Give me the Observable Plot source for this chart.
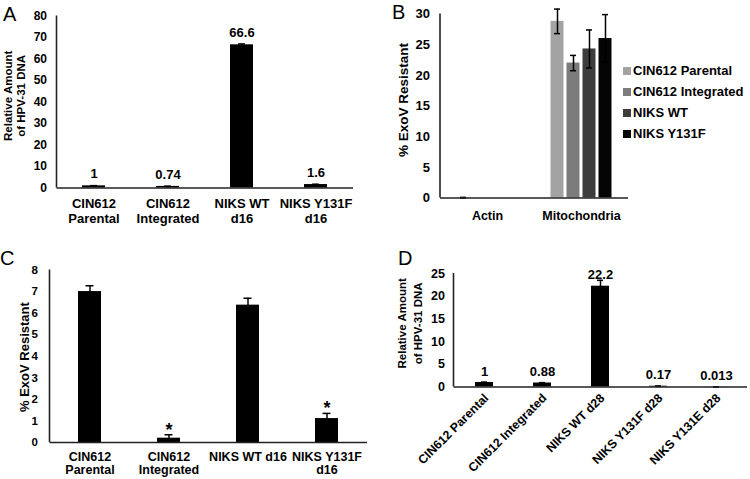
<!DOCTYPE html>
<html>
<head>
<meta charset="utf-8">
<script src="https://cdn.jsdelivr.net/npm/d3@7"></script>
<script src="https://cdn.jsdelivr.net/npm/@observablehq/plot@0.6"></script>
<style>
  body { margin: 0; background: #fff; }
  #root { position: relative; width: 750px; height: 479px; overflow: hidden;
          font-family: "Liberation Sans", Arial, sans-serif; font-weight: bold; color: #000; }
  .panel { position: absolute; }
  .panel svg { overflow: visible; }
  .letter { position: absolute; font-weight: normal; font-size: 20px; line-height: 1; }
  .ytitle { position: absolute; left: 0; top: 0; white-space: nowrap; text-align: center; transform-origin: 0 0; }
  .legend { position: absolute; font-size: 13px; }
  .legend .item { position: absolute; white-space: nowrap; display: flex; align-items: center; line-height: 15px; }
  .legend .sw { width: 8px; height: 8px; margin-right: 2px; }
</style>
</head>
<body>
<div id="root"></div>
<script>
// ---------- Panel A ----------
const catsA = ["CIN612 Parental", "CIN612 Integrated", "NIKS WT d16", "NIKS Y131F d16"];
const tickLabelsA = ["CIN612\nParental", "CIN612\nIntegrated", "NIKS WT\nd16", "NIKS Y131F\nd16"];
const valuesA = [1, 0.74, 66.6, 1.6];
const errorsA = [0.1, 0.06, 0.4, 0.15];
const valueLabelsA = ["1", "0.74", "66.6", "1.6"];
const yTicksA = [0, 10, 20, 30, 40, 50, 60, 70, 80];

// ---------- Panel B ----------
const groupsB = ["Actin", "Mitochondria"];
const seriesB = ["CIN612 Parental", "CIN612 Integrated", "NIKS WT", "NIKS Y131F"];
const actinB = [0.05, 0, 0, 0];
const actinErrB = [0.05, 0, 0, 0];
const mitoB = [28.8, 22.0, 24.3, 26.0];
const mitoErrB = [2.0, 1.25, 3.1, 3.9];
const yTicksB = [0, 5, 10, 15, 20, 25, 30];
const colorsB = ["#a3a3a3", "#7c7c7c", "#3d3d3d", "#050505"];

// ---------- Panel C ----------
const catsC = ["CIN612 Parental", "CIN612 Integrated", "NIKS WT d16", "NIKS Y131F d16"];
const tickLabelsC = ["CIN612\nParental", "CIN612\nIntegrated", "NIKS WT d16", "NIKS Y131F\nd16"];
const valuesC = [7.0, 0.2, 6.37, 1.11];
const errorsC = [0.27, 0.16, 0.32, 0.24];
const markC = ["", "*", "", "*"];
const yTicksC = [0, 1, 2, 3, 4, 5, 6, 7, 8];

// ---------- Panel D ----------
const catsD = ["CIN612 Parental", "CIN612 Integrated", "NIKS WT d28", "NIKS Y131F d28", "NIKS Y131E d28"];
const valuesD = [1, 0.88, 22.2, 0.17, 0.013];
const errorsD = [0.08, 0.08, 1.3, 0.02, 0.005];
const valueLabelsD = ["1", "0.88", "22.2", "0.17", "0.013"];
const yTicksD = [0, 5, 10, 15, 20, 25];

const FONT = "'Liberation Sans', Arial, sans-serif";
const baseStyle = { fontFamily: FONT, fontSize: "12.5px", fontWeight: "bold", color: "#000", background: "transparent", overflow: "visible" };
const AXIS_COLOR = "#222";

// y axis line drawn once from plot dimensions
function yAxisLine() {
  let drawn = false;
  return (index, scales, values, dim) => {
    if (drawn) return null;
    drawn = true;
    return d3.create("svg:line")
      .attr("x1", dim.marginLeft).attr("x2", dim.marginLeft)
      .attr("y1", dim.marginTop).attr("y2", dim.height - dim.marginBottom)
      .attr("stroke", AXIS_COLOR).attr("stroke-width", 1.6).node();
  };
}

function errorBars(data, opts, capInset) {
  const common = { stroke: "#000", strokeWidth: 1.5 };
  return [
    Plot.ruleX(data, { ...opts, y1: d => d.value - d.err, y2: d => d.value + d.err, ...common }),
    Plot.tickY(data, { ...opts, y: d => d.value + d.err, insetLeft: capInset, insetRight: capInset, ...common }),
    Plot.tickY(data, { ...opts, y: d => Math.max(0, d.value - d.err), insetLeft: capInset, insetRight: capInset, ...common })
  ];
}

const root = document.getElementById("root");
function place(node, left, top) {
  const d = document.createElement("div");
  d.className = "panel"; d.style.left = left + "px"; d.style.top = top + "px";
  d.appendChild(node); root.appendChild(d);
}
function letter(t, left, top) {
  const d = document.createElement("div"); d.className = "letter";
  d.textContent = t; d.style.left = left + "px"; d.style.top = top + "px"; root.appendChild(d);
}
function ytitle(lines, cx, cy, size, lh) {
  const d = document.createElement("div"); d.className = "ytitle";
  d.style.fontSize = size + "px"; d.style.lineHeight = lh + "px";
  d.innerHTML = lines.join("<br>");
  root.appendChild(d);
  const w = d.offsetWidth, h = d.offsetHeight;
  d.style.transform = `translate(${cx - h / 2}px, ${cy + w / 2}px) rotate(-90deg)`;
}

// ---------- A ----------
const rowsA = catsA.map((c, i) => ({ cat: c, value: valuesA[i], err: errorsA[i], label: valueLabelsA[i] }));
const tickMapA = new Map(catsA.map((c, i) => [c, tickLabelsA[i]]));
const chartA = Plot.plot({
  width: 370, height: 230, marginTop: 15.5, marginLeft: 56.5, marginRight: 17, marginBottom: 42.5,
  style: baseStyle,
  x: { domain: catsA, paddingInner: 0.69, paddingOuter: 0.345 },
  y: { domain: [0, 80] },
  marks: [
    Plot.barY(rowsA, { x: "cat", y: "value", fill: "#000" }),
    ...errorBars(rowsA, { x: "cat" }, 8),
    Plot.text(rowsA, { x: "cat", y: "value", text: "label", dy: -12, fill: "#000", fontSize: 13 }),
    Plot.ruleY([0], { stroke: AXIS_COLOR, strokeWidth: 1.6 }),
    yAxisLine(),
    Plot.axisY({ ticks: yTicksA, tickSize: 0, tickPadding: 10, label: null, fontSize: 12 }),
    Plot.axisX({ tickSize: 0, tickPadding: 10, label: null, tickFormat: d => tickMapA.get(d), lineHeight: 1.13, fontSize: 13 })
  ]
});
place(chartA, 0, 0);

// ---------- B ----------
const rowsB = groupsB.flatMap((g, gi) => seriesB.map((s, si) => ({
  group: g, series: s,
  value: (gi === 0 ? actinB : mitoB)[si],
  err: (gi === 0 ? actinErrB : mitoErrB)[si]
})));
const rowsBErr = rowsB.filter(d => d.err > 0);
const chartB = Plot.plot({
  width: 265, height: 230, marginTop: 13.5, marginLeft: 69.5, marginRight: 7, marginBottom: 32.5,
  style: baseStyle,
  fx: { domain: groupsB, padding: 0, label: null },
  x: { domain: seriesB, paddingInner: 0.21, paddingOuter: 0.97, axis: null },
  y: { domain: [0, 30] },
  color: { domain: seriesB, range: colorsB },
  marks: [
    Plot.barY(rowsB, { fx: "group", x: "series", y: "value", fill: "series" }),
    ...errorBars(rowsBErr, { fx: "group", x: "series" }, 3.5),
    Plot.ruleY([0], { stroke: AXIS_COLOR, strokeWidth: 1.6 }),
    yAxisLine(),
    Plot.axisY({ ticks: yTicksB, tickSize: 0, tickPadding: 10.5, label: null, fontSize: 13 }),
    Plot.axisFx({ anchor: "bottom", tickSize: 0, tickPadding: 13, label: null, fontSize: 12.5 })
  ]
});
place(chartB, 370, 0);

// legend B
const legend = document.createElement("div");
legend.className = "legend"; legend.style.left = "623px"; legend.style.top = "0px";
seriesB.forEach((s, i) => {
  const it = document.createElement("div"); it.className = "item";
  it.style.top = (63 + i * 21) + "px"; it.style.left = "0px";
  const sw = document.createElement("span"); sw.className = "sw"; sw.style.background = colorsB[i];
  const tx = document.createElement("span"); tx.textContent = s;
  it.appendChild(sw); it.appendChild(tx); legend.appendChild(it);
});
root.appendChild(legend);

// ---------- C ----------
const rowsC = catsC.map((c, i) => ({ cat: c, value: valuesC[i], err: errorsC[i], mark: markC[i] }));
const tickMapC = new Map(catsC.map((c, i) => [c, tickLabelsC[i]]));
const chartC = Plot.plot({
  width: 370, height: 249, marginTop: 39.5, marginLeft: 49.5, marginRight: 3, marginBottom: 37,
  style: baseStyle,
  x: { domain: catsC, paddingInner: 0.71, paddingOuter: 0.355 },
  y: { domain: [0, 8] },
  marks: [
    Plot.barY(rowsC, { x: "cat", y: "value", fill: "#000" }),
    ...errorBars(rowsC, { x: "cat" }, 7.5),
    Plot.text(rowsC.filter(d => d.mark), { x: "cat", y: d => d.value + d.err, text: "mark", dy: -5, fontSize: 18, fill: "#000" }),
    Plot.ruleY([0], { stroke: AXIS_COLOR, strokeWidth: 1.6 }),
    yAxisLine(),
    Plot.axisY({ ticks: yTicksC, tickSize: 0, tickPadding: 12, label: null, fontSize: 11.5 }),
    Plot.axisX({ tickSize: 0, tickPadding: 10, label: null, tickFormat: d => tickMapC.get(d), lineHeight: 1.0, fontSize: 12.5 })
  ]
});
place(chartC, 0, 230);

// ---------- D ----------
const rowsD = catsD.map((c, i) => ({ cat: c, value: valuesD[i], err: errorsD[i], label: valueLabelsD[i] }));
const chartD = Plot.plot({
  width: 380, height: 249, marginTop: 43, marginLeft: 83.5, marginRight: 3, marginBottom: 92.5,
  style: baseStyle,
  x: { domain: catsD, paddingInner: 0.685, paddingOuter: 0.3425 },
  y: { domain: [0, 25] },
  marks: [
    Plot.barY(rowsD, { x: "cat", y: "value", fill: "#000" }),
    ...errorBars(rowsD, { x: "cat" }, 6),
    Plot.text(rowsD, { x: "cat", y: "value", text: "label", dy: -11, fill: "#000", fontSize: 13 }),
    Plot.ruleY([0], { stroke: AXIS_COLOR, strokeWidth: 1.6 }),
    yAxisLine(),
    Plot.axisY({ ticks: yTicksD, tickSize: 0, tickPadding: 9, label: null, fontSize: 12.5 }),
    Plot.axisX({ tickSize: 0, tickPadding: 9, dx: 2, tickRotate: -45, label: null, fontSize: 12.3 })
  ]
});
place(chartD, 370, 230);

// ---------- letters & titles ----------
letter("A", 3, 4);
letter("B", 392, 2);
letter("C", 0, 248);
letter("D", 398, 248);
ytitle(["Relative Amount", "of HPV-31 DNA"], 14.6, 96, 11.5, 12.7);
ytitle(["% ExoV Resistant"], 404, 100, 13.5, 14);
ytitle(["% ExoV Resistant"], 24.5, 357, 13, 14);
ytitle(["Relative Amount", "of HPV-31 DNA"], 410, 323.5, 11.5, 15.5);
</script>
</body>
</html>
